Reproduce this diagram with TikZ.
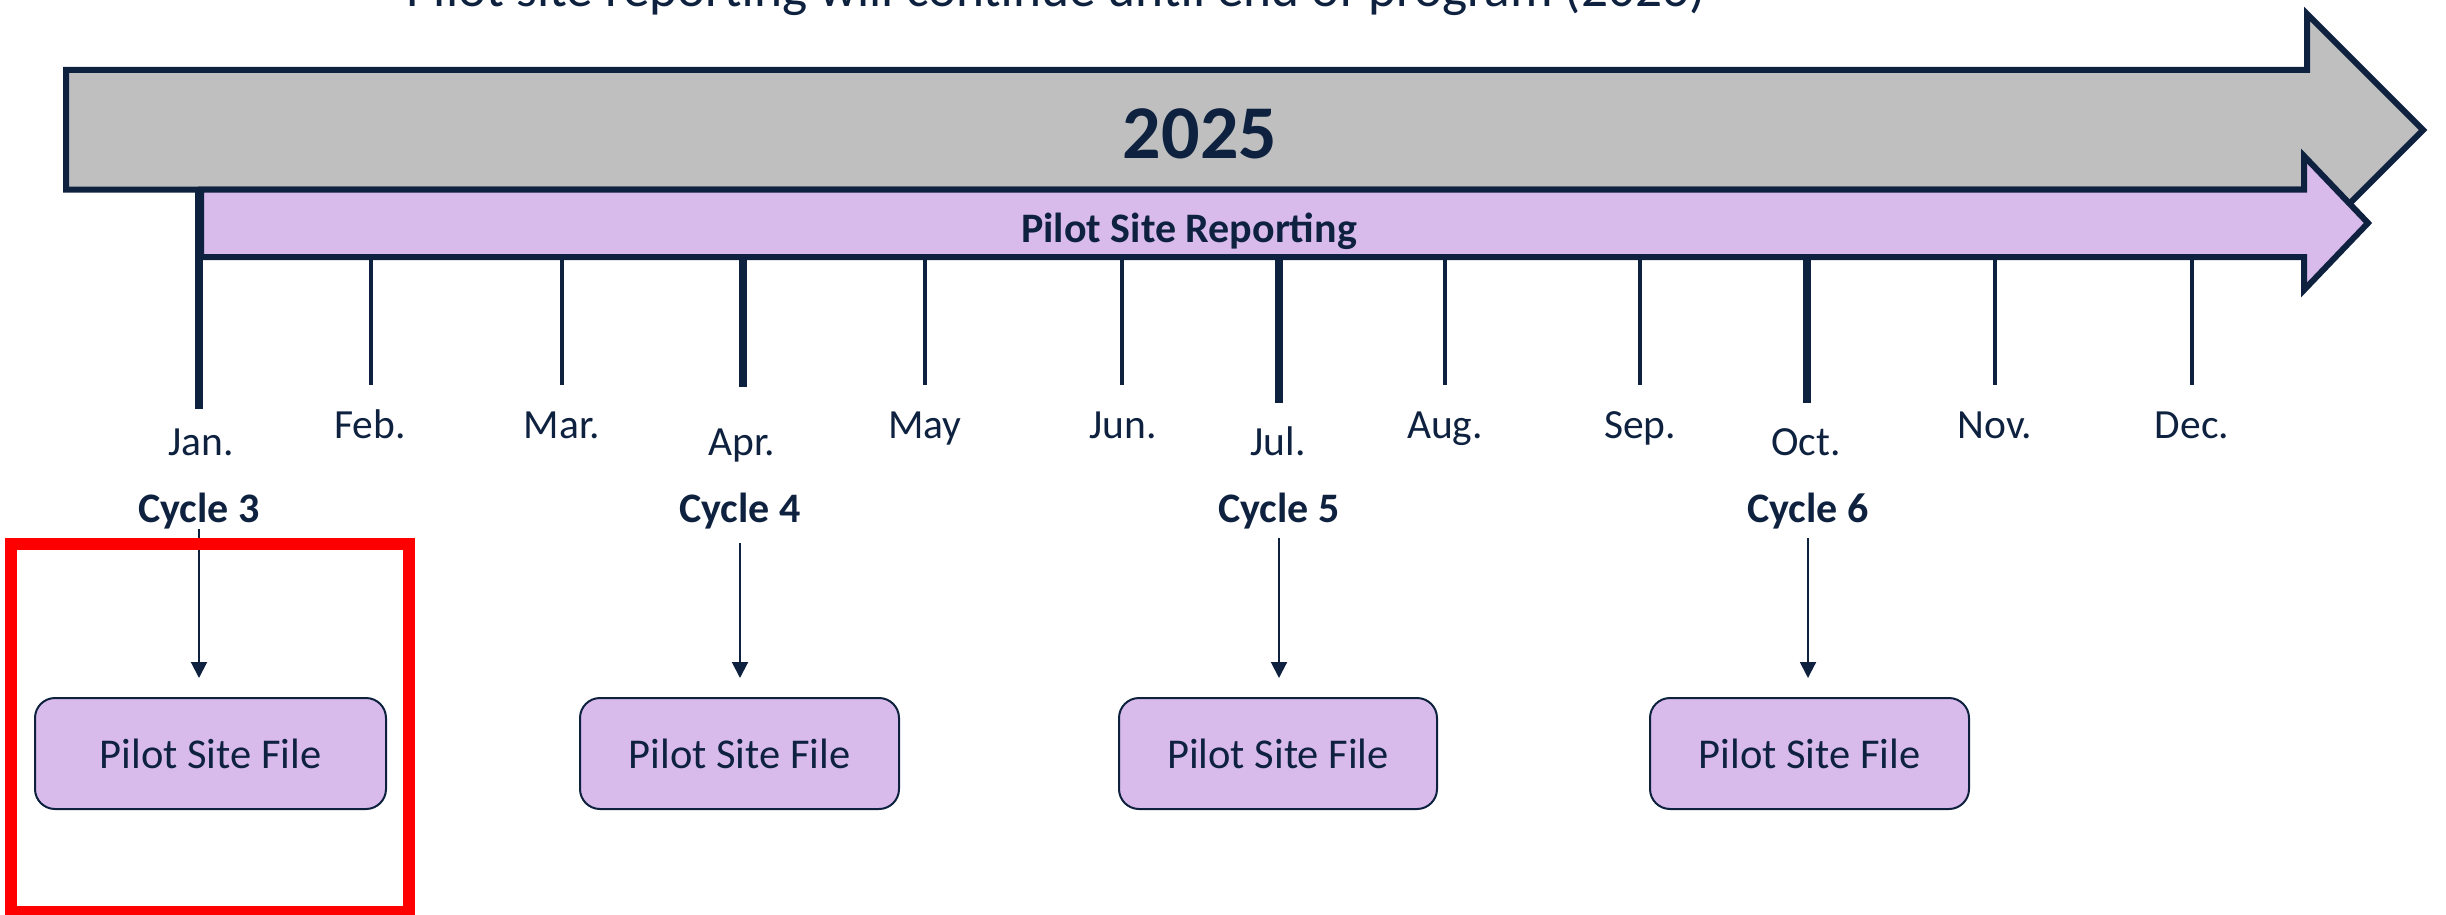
\documentclass[tikz,border=0pt]{standalone}
\usepackage{fontspec}
\setmainfont{Carlito}
\usetikzlibrary{arrows.meta}
\definecolor{navy}{RGB}{14,34,64}
\definecolor{grayfill}{RGB}{191,191,191}
\definecolor{lav}{RGB}{216,187,234}
\definecolor{redbox}{RGB}{255,0,0}
\begin{document}
\begin{tikzpicture}[x=1pt,y=-1pt,
  month/.style={font=\fontsize{41.5}{48}\selectfont, text=navy, anchor=base, inner sep=0pt},
  cyc/.style={font=\fontsize{42}{48}\selectfont\bfseries, text=navy, anchor=base, inner sep=0pt},
  filebox/.style={draw=navy, line width=2pt, fill=lav, rounded corners=20pt, minimum height=111pt, text=navy, font=\fontsize{42.5}{49}\selectfont, inner sep=0pt},
  thintick/.style={navy, line width=4pt},
  thicktick/.style={navy, line width=8pt},
  flow/.style={navy, line width=2pt, -{Triangle[width=16pt,length=16pt]}, shorten >=19pt},
  bigarrow/.style={draw=navy, line width=6pt, miter limit=10}
]
\useasboundingbox (0,0) rectangle (2446,915);
% title (cut off at top, as in the original)
\node[anchor=base, font=\fontsize{53.3}{60}\selectfont, text=navy, inner sep=0pt] (title) at (1056,7) {Pilot site reporting will continue until end of program (2026)};
% gray year arrow
\draw[bigarrow, fill=grayfill] (66,70) -- (2307,70) -- (2307,14) -- (2423,130) -- (2307,246) -- (2307,189.5) -- (66,189.5) -- cycle;
\node[anchor=base, font=\fontsize{76}{80}\selectfont\bfseries, text=navy, inner sep=0pt] (year) at (1200,158) {2025};
% purple reporting arrow
\draw[bigarrow, fill=lav] (201,189.5) -- (2304,189.5) -- (2304,156) -- (2368,223) -- (2304,290) -- (2304,257) -- (201,257) -- cycle;
\node[anchor=base, font=\fontsize{42}{48}\selectfont\bfseries, text=navy, inner sep=0pt] (psr) at (1189,242) {Pilot Site Reporting};
% ticks
\draw[thicktick] (199,187) -- (199,409);
\draw[thintick] (371,259) -- (371,385);
\draw[thintick] (562,259) -- (562,385);
\draw[thicktick] (743,259) -- (743,387);
\draw[thintick] (925,259) -- (925,385);
\draw[thintick] (1122,259) -- (1122,385);
\draw[thicktick] (1279,259) -- (1279,403);
\draw[thintick] (1445,259) -- (1445,385);
\draw[thintick] (1640,259) -- (1640,385);
\draw[thicktick] (1807,259) -- (1807,403);
\draw[thintick] (1995,259) -- (1995,385);
\draw[thintick] (2192,259) -- (2192,385);
% months
\node[month] (jan) at (201,455) {Jan.};
\node[month] (feb) at (370,438) {Feb.};
\node[month] (mar) at (562,438) {Mar.};
\node[month] (apr) at (742,455) {Apr.};
\node[month] (may) at (925,438) {May};
\node[month] (jun) at (1123,438) {Jun.};
\node[month] (jul) at (1278,455) {Jul.};
\node[month] (aug) at (1445,438) {Aug.};
\node[month] (sep) at (1640,438) {Sep.};
\node[month] (oct) at (1806,455) {Oct.};
\node[month] (nov) at (1995,438) {Nov.};
\node[month] (dec) at (2192,438) {Dec.};
% cycles
\node[cyc] (c3) at (199,522) {Cycle 3};
\node[cyc] (c4) at (740,522) {Cycle 4};
\node[cyc] (c5) at (1279,522) {Cycle 5};
\node[cyc] (c6) at (1808,522) {Cycle 6};
% file boxes
\node[filebox, minimum width=351pt] (b1) at (210.5,753.5) {Pilot Site File};
\node[filebox, minimum width=319pt] (b2) at (739.5,753.5) {Pilot Site File};
\node[filebox, minimum width=318pt] (b3) at (1278,753.5) {Pilot Site File};
\node[filebox, minimum width=319pt] (b4) at (1809.5,753.5) {Pilot Site File};
% connectors
\draw[flow] (c3.south) -- (c3.south |- b1.north);
\draw[flow, shorten <=14pt] (c4.south) -- (c4.south |- b2.north);
\draw[flow, shorten <=9pt] (c5.south) -- (c5.south |- b3.north);
\draw[flow, shorten <=9pt] (c6.south) -- (c6.south |- b4.north);
% red highlight frame
\draw[redbox, line width=12pt] (11,544) rectangle (409,912);
\end{tikzpicture}
\end{document}
